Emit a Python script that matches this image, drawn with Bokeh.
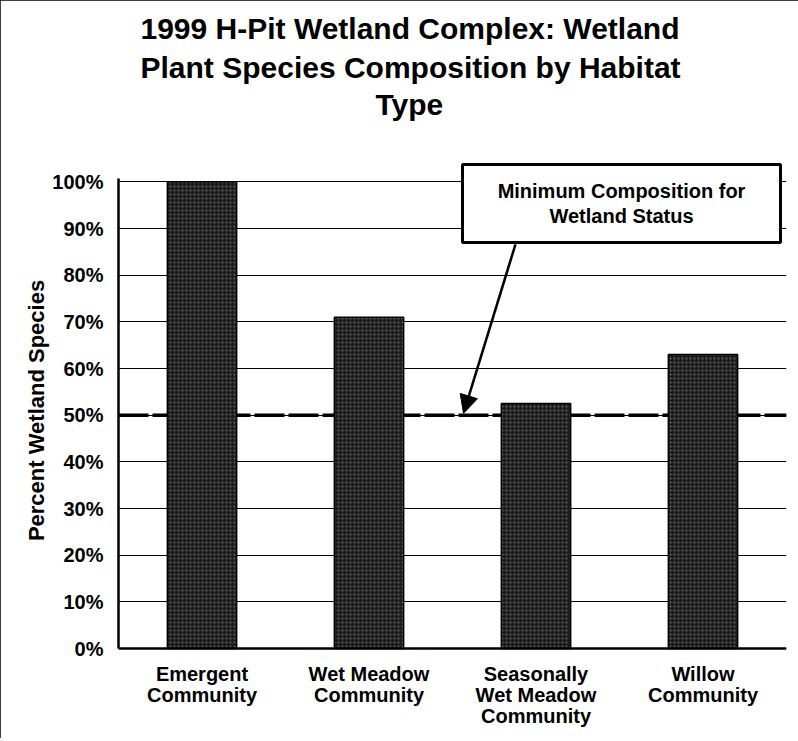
from bokeh.plotting import figure
from bokeh.models import (FactorRange, Range1d, FixedTicker, Span, Label, Arrow,
                          NormalHead, ColumnDataSource, CategoricalAxis, Title,
                          CustomJSTickFormatter)
from bokeh.embed import file_html
from bokeh.resources import INLINE

# ---- data ----
categories = ["Emergent Community", "Wet Meadow Community",
              "Seasonally Wet Meadow Community", "Willow Community"]
label_line1 = ["Emergent", "Wet Meadow", "Seasonally", "Willow"]
label_line2 = ["Community", "Community", "Wet Meadow", "Community"]
label_line3 = ["", "", "Community", ""]
percent_wetland = [100, 71, 52.5, 63]
y_ticks = [0, 10, 20, 30, 40, 50, 60, 70, 80, 90, 100]
y_tick_labels = ["0%", "10%", "20%", "30%", "40%", "50%", "60%", "70%", "80%", "90%", "100%"]
threshold = 50
title_lines = ["1999 H-Pit Wetland Complex: Wetland",
               "Plant Species Composition by Habitat",
               "Type"]
note_lines = ["Minimum Composition for", "Wetland Status"]
y_label = "Percent Wetland Species"

FONT = "Liberation Sans"

p = figure(x_range=FactorRange(*categories), y_range=Range1d(-3, 105),
           frame_width=668, frame_height=504, output_backend="svg",
           toolbar_location=None, title_location=None,
           min_border_left=118, min_border_right=12, min_border_top=158,
           min_border_bottom=76)
p.outline_line_color = None
p.background_fill_color = "white"
p.border_fill_color = "white"
p.styles = {"outline": "3px solid black", "outline-offset": "-3px"}

src = ColumnDataSource(dict(cat=categories, val=percent_wetland))

# grid
p.xgrid.grid_line_color = None
p.ygrid.ticker = FixedTicker(ticks=y_ticks)
p.ygrid.grid_line_color = "black"
p.ygrid.grid_line_width = 1.2

# threshold dashed line
p.add_layout(Span(location=threshold, dimension="width", line_color="black",
                  line_width=3.5, line_dash="30 4", level="underlay"))
# baseline (x axis line at 0%)
p.add_layout(Span(location=0, dimension="width", line_color="black",
                  line_width=2.5))

# bars
p.vbar(x="cat", top="val", width=0.415, source=src, fill_color="#1c1c1c",
       line_color="black", line_width=1.5, hatch_pattern="dot",
       hatch_color="#bdbdbd", hatch_alpha=0.45, hatch_scale=4, hatch_weight=0.7)

# annotation box
p.quad(left=[2.06], right=[3.964], top=[103.7], bottom=[87.0],
       fill_color="white", line_color="black", line_width=3)
for txt, yy in zip(note_lines, [98.1, 92.6]):
    p.add_layout(Label(x=3.012, y=yy, text=txt, text_align="center",
                       text_baseline="middle", text_font=FONT,
                       text_font_size="20px", text_font_style="bold",
                       text_color="black"))
p.add_layout(Arrow(end=NormalHead(size=18, fill_color="black", line_color="black"),
                   x_start=2.377, y_start=86.6, x_end=2.066, y_end=50.4,
                   line_width=2.5, line_color="black"))

# title (three lines, stacked outward from the frame, above a spacer)
p.add_layout(Title(text=" ", standoff=3, text_font=FONT, text_font_size="30px",
                   text_font_style="bold"), "above")
title_offsets = [22, 22, 257]
title_standoffs = [4, 4, 0]
for txt, off, so in reversed(list(zip(title_lines, title_offsets, title_standoffs))):
    p.add_layout(Title(text=txt, align="left", offset=off, standoff=so,
                       text_font=FONT, text_font_size="30px",
                       text_font_style="bold", text_color="black"), "above")

# y axis
ya = p.yaxis[0]
ya.ticker = FixedTicker(ticks=y_ticks)
ya.major_label_overrides = {t: l for t, l in zip(y_ticks, y_tick_labels)}
ya.bounds = (0, 100.8)
ya.axis_line_width = 2.5
ya.axis_line_color = "black"
ya.major_tick_line_color = None
ya.minor_tick_line_color = None
ya.major_tick_out = 0
ya.major_tick_in = 0
ya.major_label_standoff = 15
ya.major_label_text_font = FONT
ya.major_label_text_font_size = "20px"
ya.major_label_text_font_style = "bold"
ya.major_label_text_color = "black"
ya.axis_label = y_label
ya.axis_label_text_font = FONT
ya.axis_label_text_font_size = "22px"
ya.axis_label_text_font_style = "bold"
ya.axis_label_text_color = "black"
ya.axis_label_standoff = 0


def style_xaxis(ax, lines, standoff):
    ax.formatter = CustomJSTickFormatter(
        args=dict(cats=categories, lines=lines),
        code="const i = cats.indexOf(tick); return i >= 0 ? lines[i] : '';")
    ax.axis_line_color = None
    ax.major_tick_line_color = None
    ax.minor_tick_line_color = None
    ax.major_tick_out = 0
    ax.major_tick_in = 0
    ax.major_label_standoff = standoff
    ax.major_label_text_font = FONT
    ax.major_label_text_font_size = "20px"
    ax.major_label_text_font_style = "bold"
    ax.major_label_text_color = "black"
    ax.major_label_orientation = "horizontal"


style_xaxis(p.xaxis[0], label_line1, 0)
for lines in (label_line2, label_line3):
    ax = CategoricalAxis()
    style_xaxis(ax, lines, -4)
    p.add_layout(ax, "below")

open("out.html", "w").write(file_html(p, INLINE))
